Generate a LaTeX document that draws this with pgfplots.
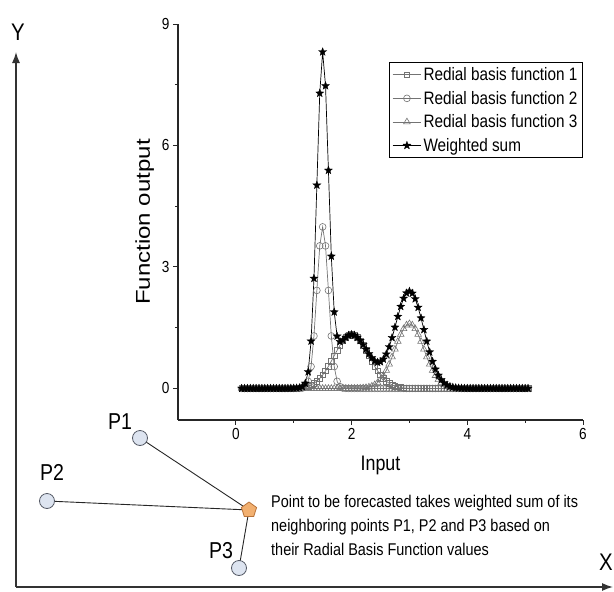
\documentclass[border=0pt]{standalone}
\usepackage{pgfplots}
\pgfplotsset{compat=1.18}
\usepackage{pgfplotstable}
\usepackage{fontspec}
\setmainfont{Liberation Sans}[FakeStretch=0.85]
\newfontfamily\ylabfont{Liberation Sans}[FakeStretch=1.2]
\usetikzlibrary{arrows.meta,plotmarks}
\definecolor{cfill}{HTML}{DDE4F0}
\definecolor{cdraw}{HTML}{555A66}
\definecolor{pfill}{HTML}{F2B070}
\definecolor{pdraw}{HTML}{B8733A}
\pgfdeclareplotmark{fstar}{%
  \pgfpathmoveto{\pgfpointpolar{90}{\pgfplotmarksize}}%
  \pgfpathlineto{\pgfpointpolar{126}{0.42\pgfplotmarksize}}%
  \pgfpathlineto{\pgfpointpolar{162}{\pgfplotmarksize}}%
  \pgfpathlineto{\pgfpointpolar{198}{0.42\pgfplotmarksize}}%
  \pgfpathlineto{\pgfpointpolar{234}{\pgfplotmarksize}}%
  \pgfpathlineto{\pgfpointpolar{270}{0.42\pgfplotmarksize}}%
  \pgfpathlineto{\pgfpointpolar{306}{\pgfplotmarksize}}%
  \pgfpathlineto{\pgfpointpolar{342}{0.42\pgfplotmarksize}}%
  \pgfpathlineto{\pgfpointpolar{18}{\pgfplotmarksize}}%
  \pgfpathlineto{\pgfpointpolar{54}{0.42\pgfplotmarksize}}%
  \pgfpathclose\pgfusepathqfillstroke}

\pgfplotstableread{
x f1 f2 f3 s
0.10 0 0 0 0
0.15 0 0 0 0
0.20 0 0 0 0
0.25 0 0 0 0
0.30 0 0 0 0
0.35 0 0 0 0
0.40 0 0 0 0
0.45 0 0 0 0
0.50 0 0 0 0
0.55 0 0 0 0
0.60 0 0 0 0
0.65 0 0 0 0
0.70 0 0 0 0
0.75 0 0 0 0
0.80 0.0004 0 0 0.0004
0.85 0.0009 0 0 0.0009
0.90 0.0016 0 0 0.0016
0.95 0.0029 0 0 0.0029
1.00 0.0051 0 0 0.0051
1.05 0.0088 0.0006 0 0.0100
1.10 0.0148 0.0013 0 0.0174
1.15 0.0240 0.0087 0 0.0414
1.20 0.0380 0.0443 0 0.1266
1.25 0.0584 0.1753 0 0.4090
1.30 0.0874 0.5399 0 1.1672
1.35 0.1272 1.2952 0 2.7176
1.40 0.1800 2.4197 0 5.0194
1.45 0.2477 3.5207 0 7.2891
1.50 0.3316 3.9894 0 8.3104
1.55 0.4317 3.5207 0 7.4731
1.60 0.5467 2.4197 0 5.3861
1.65 0.6733 1.2952 0 3.2637
1.70 0.8066 0.5399 0 1.8864
1.75 0.9398 0.1753 0 1.2904
1.80 1.0648 0.0443 0 1.1534
1.85 1.1735 0.0087 0 1.1909
1.90 1.2579 0.0013 0 1.2605
1.95 1.3115 0.0002 0 1.3119
2.00 1.3298 0 0.0005 1.3306
2.05 1.3115 0 0.0012 1.3133
2.10 1.2579 0 0.0024 1.2615
2.15 1.1735 0 0.0049 1.1809
2.20 1.0648 0 0.0095 1.0791
2.25 0.9398 0 0.0177 0.9664
2.30 0.8066 0 0.0317 0.8542
2.35 0.6733 0 0.0543 0.7548
2.40 0.5467 0 0.0896 0.6811
2.45 0.4317 0 0.1419 0.6446
2.50 0.3316 0 0.2160 0.6556
2.55 0.2477 0 0.3158 0.7214
2.60 0.1800 0 0.4437 0.8456
2.65 0.1272 0 0.5989 1.0256
2.70 0.0874 0 0.7768 1.2526
2.75 0.0584 0 0.9679 1.5103
2.80 0.0380 0 1.1588 1.7762
2.85 0.0240 0 1.3329 2.0234
2.90 0.0148 0 1.4731 2.2245
2.95 0.0088 0 1.5642 2.3551
3.00 0.0051 0 1.5958 2.3988
3.05 0.0029 0 1.5642 2.3492
3.10 0.0016 0 1.4731 2.2113
3.15 0.0009 0 1.3329 2.0003
3.20 0.0004 0 1.1588 1.7386
3.25 0 0 0.9679 1.4519
3.30 0 0 0.7768 1.1652
3.35 0 0 0.5989 0.8984
3.40 0 0 0.4437 0.6656
3.45 0 0 0.3158 0.4737
3.50 0 0 0.2160 0.3240
3.55 0 0 0.1419 0.2129
3.60 0 0 0.0896 0.1344
3.65 0 0 0.0543 0.0815
3.70 0 0 0.0317 0.0476
3.75 0 0 0.0177 0.0266
3.80 0 0 0.0095 0.0143
3.85 0 0 0.0049 0.0074
3.90 0 0 0.0024 0.0036
3.95 0 0 0.0012 0.0018
4.00 0 0 0.0005 0.0008
4.05 0 0 0 0
4.10 0 0 0 0
4.15 0 0 0 0
4.20 0 0 0 0
4.25 0 0 0 0
4.30 0 0 0 0
4.35 0 0 0 0
4.40 0 0 0 0
4.45 0 0 0 0
4.50 0 0 0 0
4.55 0 0 0 0
4.60 0 0 0 0
4.65 0 0 0 0
4.70 0 0 0 0
4.75 0 0 0 0
4.80 0 0 0 0
4.85 0 0 0 0
4.90 0 0 0 0
4.95 0 0 0 0
5.00 0 0 0 0
5.05 0 0 0 0
}\rbf

\begin{document}
\begin{tikzpicture}
\useasboundingbox (0,0) rectangle (614pt,592pt);
% outer schematic frame (image coordinates, y downwards)
\begin{axis}[at={(0pt,0pt)}, anchor=south west, scale only axis,
  width=614pt, height=592pt, xmin=0, xmax=614, ymin=0, ymax=592,
  y dir=reverse, hide axis, clip=false]
  \draw[black!80, line width=1.4pt, -{Latex[length=11pt,width=8pt]}] (axis cs:16,587) -- (axis cs:16,52);
  \draw[black!80, line width=1.4pt, -{Latex[length=11pt,width=8pt]}] (axis cs:16,587) -- (axis cs:613,587);
  \node[font=\fontsize{24}{26}\selectfont] at (axis cs:18,32) {Y};
  \node[font=\fontsize{24}{26}\selectfont] at (axis cs:606,562) {X};
  \addplot[black!85, line width=0.9pt] coordinates {(140,438) (249,510)};
  \addplot[black!85, line width=0.9pt] coordinates {(47,501) (249,510)};
  \addplot[black!85, line width=0.9pt] coordinates {(239,568) (249,510)};
  \addplot[only marks, mark=*, mark size=7.5pt,
    mark options={fill=cfill, draw=cdraw, line width=0.8pt}]
    coordinates {(140,438) (47,501) (239,568)};
  \addplot[only marks, mark=pentagon*, mark size=8pt,
    mark options={fill=pfill, draw=pdraw, line width=0.8pt}]
    coordinates {(249,510)};
  \node[font=\fontsize{23}{25}\selectfont] at (axis cs:120,422) {P1};
  \node[font=\fontsize{23}{25}\selectfont] at (axis cs:52,472) {P2};
  \node[font=\fontsize{23}{25}\selectfont] at (axis cs:221,551) {P3};
  \node[anchor=north west, align=left, inner sep=0pt,
    font=\fontsize{17}{24}\selectfont] at (axis cs:271,495)
    {Point to be forecasted takes weighted sum of its\\
     neighboring points P1, P2 and P3 based on\\
     their Radial Basis Function values};
\end{axis}
% the function plot
\begin{axis}[at={(178pt,172pt)}, anchor=south west, scale only axis,
  width=405pt, height=396pt,
  xmin=-1, xmax=6, ymin=-0.78, ymax=9,
  axis x line=bottom, axis y line=left, axis line style={-, black!85, line width=1.1pt},
  tick align=outside, major tick length=5pt, minor tick length=3pt,
  tick style={black!85, line width=0.9pt},
  xtick={0,2,4,6}, ytick={0,3,6,9},
  minor xtick={1,3,5}, minor ytick={1.5,4.5,7.5},
  /pgf/number format/assume math mode=true,
  ticklabel style={font=\fontsize{16}{18}\selectfont},
  xlabel={Input}, xlabel style={font=\fontsize{21}{24}\selectfont, yshift=-9pt},
  ylabel={\ylabfont Function output}, ylabel style={font=\fontsize{20}{22}\selectfont, yshift=1pt},
  legend cell align=left,
  legend style={at={(1,0.904)}, anchor=north east, draw=black, line width=1.1pt,
    font=\fontsize{18}{20}\selectfont, row sep=5pt, inner sep=3pt},
  legend image code/.code={\draw[mark repeat=2, mark phase=2] plot coordinates {(0cm,0cm) (0.5cm,0cm) (1.0cm,0cm)};}
  ]
  \addplot[black!55, line width=0.7pt, mark=square, mark size=2.8pt,
    mark options={fill=white, draw=black!55, line width=0.6pt}] table[x=x, y=f1] {\rbf};
  \addlegendentry{Redial basis function 1}
  \addplot[black!55, line width=0.7pt, mark=o, mark size=3.4pt,
    mark options={fill=white, draw=black!55, line width=0.6pt}] table[x=x, y=f2] {\rbf};
  \addlegendentry{Redial basis function 2}
  \addplot[black!55, line width=0.7pt, mark=triangle, mark size=3.8pt,
    mark options={fill=white, draw=black!55, line width=0.6pt}] table[x=x, y=f3] {\rbf};
  \addlegendentry{Redial basis function 3}
  \addplot[black, line width=0.7pt, mark=fstar, mark size=4.2pt,
    mark options={fill=black, draw=black, line width=0.3pt}] table[x=x, y=s] {\rbf};
  \addlegendentry{Weighted sum}
\end{axis}
\end{tikzpicture}
\end{document}
